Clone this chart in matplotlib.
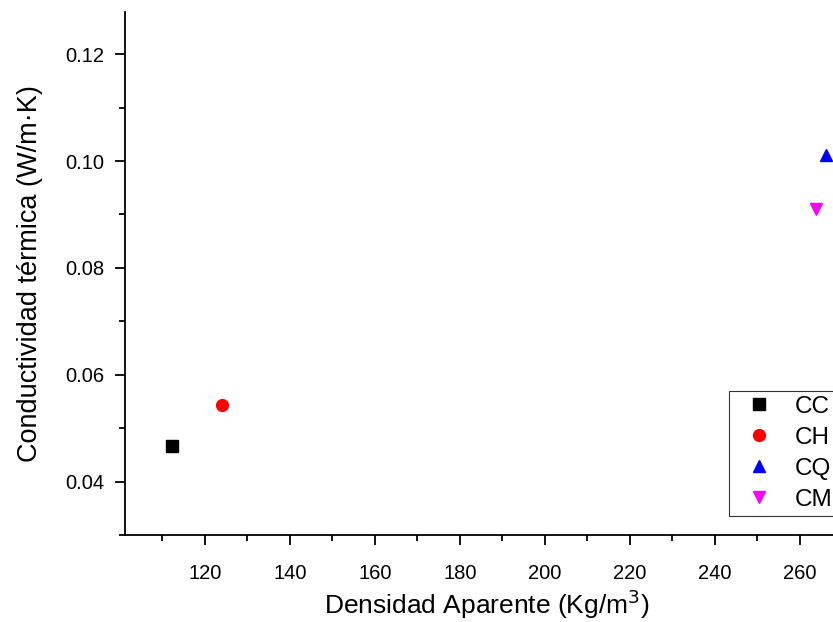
import matplotlib
matplotlib.use("Agg")
import matplotlib.pyplot as plt
from matplotlib.ticker import MultipleLocator, FixedLocator, FormatStrFormatter

plt.rcParams['font.family'] = ['Liberation Sans', 'DejaVu Sans']

labels = ["CC", "CH", "CQ", "CM"]
densidad = [112.2, 124.0, 266.1, 263.8]
conductividad = [0.0467, 0.0544, 0.1011, 0.0910]
colors = ["black", "red", "blue", "magenta"]
markers = ["s", "o", "^", "v"]
x_major_ticks = [120, 140, 160, 180, 200, 220, 240, 260]
x_minor_ticks = [110, 130, 150, 170, 190, 210, 230, 250, 270]

fig = plt.figure(figsize=(8.33, 6.22), dpi=100)
ax = fig.add_axes([0.150, 0.1399, 1.019 - 0.150, 0.9807 - 0.1399])

for x, y, c, m, l in zip(densidad, conductividad, colors, markers, labels):
    ax.plot([x], [y], linestyle="none", marker=m, color=c, markersize=8.5, label=l,
            clip_on=False)

ax.set_xlim(101.2, 271.5)
ax.set_ylim(0.030, 0.1279)
ax.xaxis.set_major_locator(FixedLocator(x_major_ticks))
ax.xaxis.set_minor_locator(FixedLocator(x_minor_ticks))
ax.yaxis.set_major_locator(MultipleLocator(0.02))
ax.yaxis.set_minor_locator(MultipleLocator(0.01))
ax.yaxis.set_major_formatter(FormatStrFormatter('%.2f'))

ax.spines['top'].set_visible(False)
ax.spines['right'].set_visible(False)
for s in ['left', 'bottom']:
    ax.spines[s].set_linewidth(1.3)
ax.tick_params(which='major', direction='out', length=7, width=1.3, labelsize=14.5)
ax.tick_params(axis='x', which='major', pad=14)
ax.tick_params(axis='y', which='major', pad=8)
ax.tick_params(which='minor', direction='out', length=4, width=1.3)

ax.set_xlabel("Densidad Aparente (Kg/m$^3$)", fontsize=19, labelpad=3)
ax.set_ylabel("Conductividad térmica (W/m·K)", fontsize=19.5, labelpad=16)

leg = fig.legend(loc="upper left", bbox_to_anchor=(729 / 833, (622 - 391) / 622),
                 fontsize=17.5, frameon=True, fancybox=False, edgecolor="black",
                 handlelength=2.1, handletextpad=0.4, labelspacing=0.37,
                 borderpad=0.2, borderaxespad=0)
leg.get_frame().set_linewidth(0.8)

fig.savefig("out.png", dpi=100)
